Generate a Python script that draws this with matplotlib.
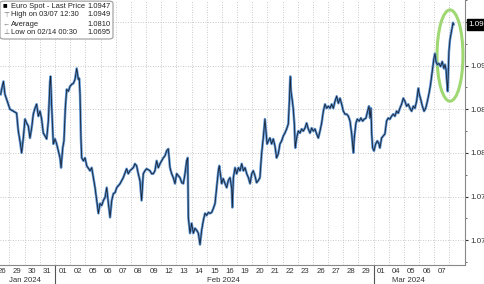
import numpy as np
import matplotlib.pyplot as plt
import matplotlib.transforms as mtransforms
from matplotlib.patches import Ellipse, FancyBboxPatch

plt.rcParams['font.family'] = ['Liberation Sans', 'DejaVu Sans']

# trading-day position (day i spans [i, i+1], Jan 26 = day 0) and EURUSD price
t = [0.42, 0.48, 0.60, 0.70, 0.81, 1.03, 1.25, 1.47, 1.58, 1.69, 1.80, 1.91, 2.02, 2.13, 2.24, 2.35,
     2.46, 2.57, 2.68, 2.79, 2.90, 3.01, 3.12, 3.23, 3.34, 3.45, 3.56, 3.67, 3.71, 3.78, 3.89, 4.00,
     4.11, 4.22, 4.33, 4.40, 4.51, 4.59, 4.68, 4.77, 4.88, 4.99, 5.10, 5.21, 5.32, 5.43, 5.54, 5.60,
     5.65, 5.71, 5.76, 5.87, 5.98, 6.09, 6.31, 6.42, 6.53, 6.64, 6.75, 6.86, 6.97, 7.08, 7.19, 7.30,
     7.41, 7.52, 7.63, 7.74, 7.85, 7.96, 8.07, 8.29, 8.50, 8.72, 8.83, 8.94, 9.16, 9.27, 9.38, 9.49,
     9.60, 9.71, 9.82, 9.93, 10.04, 10.26, 10.37, 10.48, 10.59, 10.70, 10.81, 10.92, 11.03, 11.14,
     11.25, 11.36, 11.47, 11.58, 11.69, 11.80, 11.91, 12.02, 12.13, 12.24, 12.35, 12.46, 12.57,
     12.68, 12.75, 12.79, 12.90, 13.01, 13.12, 13.23, 13.34, 13.45, 13.56, 13.67, 13.78, 13.89,
     14.00, 14.11, 14.22, 14.33, 14.44, 14.55, 14.66, 14.77, 14.83, 14.92, 14.99, 15.09, 15.21,
     15.32, 15.42, 15.54, 15.65, 15.69, 15.76, 15.87, 15.98, 16.09, 16.20, 16.31, 16.42, 16.53,
     16.64, 16.75, 16.86, 16.97, 17.07, 17.18, 17.29, 17.40, 17.51, 17.62, 17.73, 17.84, 17.91,
     17.98, 18.06, 18.17, 18.28, 18.39, 18.50, 18.61, 18.72, 18.83, 18.94, 19.05, 19.16, 19.27,
     19.38, 19.45, 19.51, 19.56, 19.65, 19.71, 19.78, 19.84, 19.93, 20.04, 20.15, 20.26, 20.37,
     20.48, 20.59, 20.70, 20.81, 20.92, 21.03, 21.14, 21.25, 21.36, 21.47, 21.58, 21.69, 21.80,
     21.91, 22.02, 22.13, 22.24, 22.35, 22.46, 22.57, 22.68, 22.79, 22.90, 23.01, 23.12, 23.23,
     23.34, 23.45, 23.56, 23.67, 23.73, 23.84, 23.93, 24.06, 24.17, 24.28, 24.39, 24.50, 24.61,
     24.70, 24.77, 24.83, 24.88, 24.94, 25.03, 25.14, 25.25, 25.36, 25.42, 25.53, 25.64, 25.75,
     25.86, 25.97, 26.08, 26.19, 26.30, 26.41, 26.52, 26.63, 26.74, 26.85, 26.96, 27.07, 27.18,
     27.29, 27.40, 27.51, 27.62, 27.73, 27.84, 27.95, 28.02, 28.11, 28.22, 28.33, 28.44, 28.55,
     28.66, 28.76, 28.87, 28.98, 29.05, 29.12, 29.20, 29.31, 29.42, 29.53, 29.64, 29.71, 29.78,
     29.82, 29.89, 29.93, 29.97, 30.04, 30.11, 30.19, 30.24, 30.28]
price = [1.08670, 1.08727, 1.08818, 1.08670, 1.08614, 1.08500, 1.08477, 1.08455, 1.08250, 1.08136,
         1.08000, 1.08170, 1.08386, 1.08341, 1.08307, 1.08170, 1.08284, 1.08443, 1.08511, 1.08557,
         1.08420, 1.08477, 1.08386, 1.08227, 1.08193, 1.08159, 1.08364, 1.08818, 1.08875, 1.08534,
         1.08102, 1.08159, 1.08102, 1.08023, 1.07943, 1.07830, 1.08057, 1.08136, 1.08511, 1.08727,
         1.08705, 1.08761, 1.08784, 1.08795, 1.08841, 1.08966, 1.08841, 1.08852, 1.08670, 1.08170,
         1.07943, 1.07909, 1.07943, 1.07852, 1.07795, 1.07830, 1.07716, 1.07602, 1.07455, 1.07307,
         1.07420, 1.07398, 1.07455, 1.07489, 1.07602, 1.07420, 1.07261, 1.07455, 1.07534, 1.07545,
         1.07602, 1.07648, 1.07716, 1.07818, 1.07761, 1.07795, 1.07830, 1.07875, 1.07852, 1.07761,
         1.07682, 1.07455, 1.07761, 1.07795, 1.07818, 1.07795, 1.07761, 1.07761, 1.07795, 1.07909,
         1.07830, 1.07875, 1.07909, 1.07943, 1.07966, 1.08023, 1.08045, 1.07830, 1.07761, 1.07716,
         1.07648, 1.07761, 1.07739, 1.07716, 1.07659, 1.07648, 1.07761, 1.07909, 1.07943, 1.07261,
         1.07080, 1.07193, 1.07080, 1.07136, 1.07114, 1.07080, 1.06950, 1.07114, 1.07227, 1.07307,
         1.07284, 1.07318, 1.07307, 1.07318, 1.07364, 1.07420, 1.07602, 1.07795, 1.07852, 1.07739,
         1.07648, 1.07705, 1.07648, 1.07602, 1.07682, 1.07716, 1.07591, 1.07375, 1.07716, 1.07830,
         1.07761, 1.07830, 1.07795, 1.07875, 1.07795, 1.07830, 1.07761, 1.07716, 1.07648, 1.07761,
         1.07795, 1.07739, 1.07659, 1.07682, 1.07716, 1.07989, 1.08170, 1.08386, 1.08250, 1.08102,
         1.08136, 1.08170, 1.08102, 1.08159, 1.08080, 1.07943, 1.07989, 1.08102, 1.08136, 1.08193,
         1.08227, 1.08273, 1.08330, 1.08591, 1.08875, 1.08705, 1.08591, 1.08500, 1.08330, 1.08057,
         1.08170, 1.08250, 1.08227, 1.08273, 1.08250, 1.08284, 1.08341, 1.08273, 1.08227, 1.08284,
         1.08250, 1.08273, 1.08216, 1.08170, 1.08250, 1.08341, 1.08477, 1.08557, 1.08511, 1.08534,
         1.08511, 1.08557, 1.08511, 1.08591, 1.08648, 1.08568, 1.08625, 1.08557, 1.08477, 1.08443,
         1.08443, 1.08420, 1.08364, 1.08216, 1.08000, 1.08170, 1.08341, 1.08386, 1.08364, 1.08398,
         1.08364, 1.08386, 1.08398, 1.08477, 1.08534, 1.08398, 1.08511, 1.08216, 1.08057, 1.08023,
         1.08102, 1.08136, 1.08102, 1.08057, 1.08170, 1.08193, 1.08216, 1.08364, 1.08398, 1.08386,
         1.08420, 1.08443, 1.08420, 1.08477, 1.08455, 1.08511, 1.08557, 1.08625, 1.08591, 1.08534,
         1.08557, 1.08511, 1.08477, 1.08534, 1.08511, 1.08591, 1.08739, 1.08670, 1.08614, 1.08534,
         1.08477, 1.08511, 1.08591, 1.08682, 1.08784, 1.08932, 1.09080, 1.09136, 1.09045, 1.09011,
         1.09023, 1.08989, 1.09045, 1.08966, 1.09011, 1.08955, 1.08852, 1.08705, 1.08932, 1.09159,
         1.09295, 1.09364, 1.09443, 1.09490, 1.09470]

day_labels = ["26", "29", "30", "31", "01", "02", "05", "06", "07", "08", "09", "12", "13", "14",
              "15", "16", "19", "20", "21", "22", "23", "26", "27", "28", "29", "01", "04", "05",
              "06", "07"]
month_labels = ["Jan 2024", "Feb 2024", "Mar 2024"]
month_pos = [2.0, 15.1, 27.3]
month_starts = [4, 25]
y_ticks = [1.070, 1.075, 1.080, 1.085, 1.090, 1.095]

legend_rows = [("\u25A0", "Euro Spot - Last Price", "1.0947"),
               ("\u22A4", "High on 03/07 12:30", "1.0949"),
               ("\u2190", "Average", "1.0810"),
               ("\u22A5", "Low on 02/14 00:30", "1.0695")]
last_price = 1.0947

fig = plt.figure(figsize=(4.85, 2.84), dpi=100)
ax = fig.add_axes([0, 19 / 284, 465 / 485, 265 / 284])

ax.plot(t, price, color="#5b93d3", lw=1.8, solid_joinstyle="round")
ax.plot(t, price, color="#1a2230", lw=0.6, solid_joinstyle="round")

ax.set_xlim(0.374, 31.03)
ax.set_ylim(1.06716, 1.09727)

# day labels centred in each day, dotted grid on day boundaries
ax.set_xticks(np.arange(len(day_labels)) + 0.5)
ax.set_xticklabels(day_labels)
ax.set_xticks(np.arange(1, 31), minor=True)
ax.tick_params(axis="x", which="both", length=0, pad=2, labelsize=5.6, colors="#333333")
ax.grid(True, axis="x", which="minor", ls=(0, (1, 2)), color="#b8b8b8", lw=0.6)

ax.yaxis.tick_right()
ax.set_yticks(y_ticks)
ax.set_yticklabels(["{:.3f}".format(v) for v in y_ticks[:-1]] + [""])
ax.set_yticks(np.arange(1.0675, 1.0975, 0.005), minor=True)
ax.tick_params(axis="y", which="major", length=2.5, pad=1.5, labelsize=5.8, colors="#333333")
ax.tick_params(axis="y", which="minor", length=1.5, colors="#555555")
ax.grid(True, axis="y", which="major", ls=(0, (1, 2)), color="#b8b8b8", lw=0.6)

for s in ["left", "top"]:
    ax.spines[s].set_visible(False)
for s in ["right", "bottom"]:
    ax.spines[s].set_color("#888888")
    ax.spines[s].set_linewidth(0.8)

trans = mtransforms.blended_transform_factory(ax.transData, ax.transAxes)
for m in month_starts:
    ax.plot([m, m], [0, -0.08], color="#555555", lw=0.8, transform=trans, clip_on=False)
for lab, pos in zip(month_labels, month_pos):
    ax.text(pos, -0.057, lab, transform=trans, ha="center", va="center",
            fontsize=5.6, color="#333333")

# last price tag on right axis
trans_y = mtransforms.blended_transform_factory(ax.transAxes, ax.transData)
ax.text(1.008, last_price, "1.0947", transform=trans_y, ha="left", va="center",
        fontsize=5.8, color="white",
        bbox=dict(boxstyle="square,pad=0.25", fc="black", ec="black"))

# highlight around the final leg
ax.add_patch(Ellipse((30.04, 1.09114), 1.71, 0.01045, fill=False,
                     edgecolor="#9fd873", lw=2.2, clip_on=False))

# legend box
box = FancyBboxPatch((0.0, 1 - 39 / 284), 113 / 485, 39 / 284 - 0.004,
                     boxstyle="round,pad=0,rounding_size=0.008", transform=fig.transFigure,
                     fc="white", ec="#9a9a9a", lw=0.8)
fig.patches.append(box)
for i, (sym, name, val) in enumerate(legend_rows):
    yy = 1 - (6 + 9 * i) / 284
    fig.text(3 / 485, yy, sym, fontsize=5.5 if i == 0 else 5, color="black" if i == 0 else "#777777",
             ha="left", va="center")
    fig.text(11 / 485, yy, name, fontsize=5.4, color="#222222", ha="left", va="center")
    fig.text(111 / 485, yy, val, fontsize=5.4, color="#222222", ha="right", va="center")

fig.savefig("out.png", dpi=100)
